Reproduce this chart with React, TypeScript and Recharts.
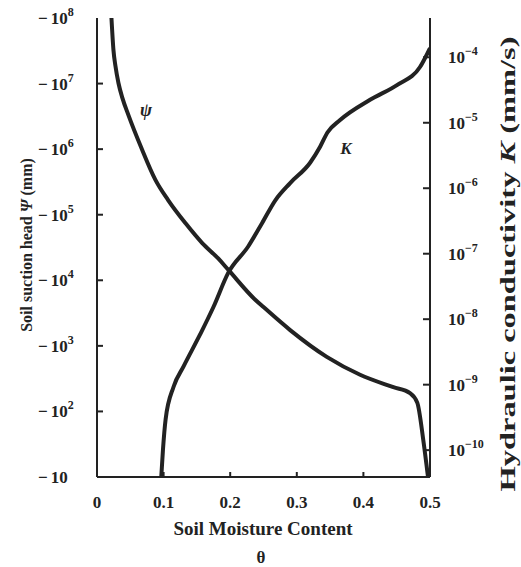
import React from "react";
import { LineChart, Line, XAxis, YAxis } from "recharts";

// ---- data ----
const psiTheta = [0.0217, 0.0247, 0.0277, 0.0322, 0.0382, 0.0472, 0.0667, 0.0877, 0.107, 0.133, 0.158, 0.182, 0.197, 0.238, 0.25, 0.29, 0.345, 0.395, 0.445, 0.47, 0.481, 0.49, 0.497];
const psiHead = [1.0e8, 3.25e7, 1.85e7, 1.02e7, 6.0e6, 3.3e6, 1.04e6, 3.4e5, 1.66e5, 7.4e4, 3.7e4, 2.15e4, 1.45e4, 5.0e3, 3.9e3, 1.74e3, 680, 363, 234, 190, 135, 36, 10];

const kTheta = [0.0965, 0.099, 0.103, 0.115, 0.13, 0.155, 0.175, 0.197, 0.227, 0.248, 0.268, 0.29, 0.32, 0.335, 0.346, 0.365, 0.41, 0.451, 0.485, 0.5];
const kCond = [3.9e-11, 1.0e-10, 2.95e-10, 9.3e-10, 1.9e-9, 5.9e-9, 1.55e-8, 5.1e-8, 1.29e-7, 2.95e-7, 6.6e-7, 1.2e-6, 2.45e-6, 4.3e-6, 7.1e-6, 1.1e-5, 2.24e-5, 3.8e-5, 7.1e-5, 1.38e-4];

const thetaTicks = [0, 0.1, 0.2, 0.3, 0.4, 0.5];
const psiTicks = [10, 1e2, 1e3, 1e4, 1e5, 1e6, 1e7, 1e8];
const kTicks = [1e-10, 1e-9, 1e-8, 1e-7, 1e-6, 1e-5, 1e-4];

const psiData = psiTheta.map((t, i) => ({ theta: t, psi: psiHead[i] }));
const kData = kTheta.map((t, i) => ({ theta: t, k: kCond[i] }));

const INK = "#222222";
const FONT = "'Liberation Serif', 'Times New Roman', serif";

function LeftTick(props: any) {
  const { x, y, payload } = props;
  const n = Math.round(Math.log10(payload.value));
  return (
    <g>
      {n > 1 && n < 8 && <line x1={x} y1={y} x2={x + 6} y2={y} stroke={INK} strokeWidth={2} />}
      <text x={x - 59} y={y + 6} fontFamily={FONT} fontWeight="bold" fontSize={17} fill={INK}>
        {"−"}
        <tspan dx={3}>10</tspan>
        {n > 1 && (
          <tspan dy={-8} fontSize={12}>
            {String(n)}
          </tspan>
        )}
      </text>
    </g>
  );
}

function RightTick(props: any) {
  const { x, y, payload } = props;
  const n = Math.round(Math.log10(payload.value));
  return (
    <g>
      <line x1={x} y1={y} x2={x - 7} y2={y} stroke={INK} strokeWidth={2} />
      <text x={x + 18} y={y + 6} fontFamily={FONT} fontWeight="bold" fontSize={17} fill={INK}>
        10
        <tspan dy={-8} fontSize={12}>{`−${-n}`}</tspan>
      </text>
    </g>
  );
}

function BottomTick(props: any) {
  const { x, y, payload } = props;
  const v = payload.value as number;
  return (
    <g>
      {v > 0.001 && v < 0.499 && <line x1={x} y1={y} x2={x} y2={y - 5} stroke={INK} strokeWidth={2} />}
      <text x={x} y={y + 31} textAnchor="middle" fontFamily={FONT} fontWeight="bold" fontSize={17} fill={INK}>
        {v === 0 ? "0" : v.toFixed(1)}
      </text>
    </g>
  );
}

function TopTick(props: any) {
  const { x, y, payload } = props;
  const v = payload.value as number;
  if (v < 0.001 || v > 0.499) return <g />;
  return <line x1={x} y1={y} x2={x} y2={y + 6} stroke={INK} strokeWidth={2} />;
}

export default function App() {
  const axisLine = { stroke: INK, strokeWidth: 2 };
  return (
    <div style={{ position: "absolute", left: 0, top: 0, width: 521, height: 567, background: "#fff" }}>
      <LineChart width={521} height={567} margin={{ top: 18, right: 0, bottom: 0, left: 0 }}>
        <XAxis
          xAxisId="b"
          type="number"
          dataKey="theta"
          domain={[0, 0.5]}
          ticks={thetaTicks}
          interval={0}
          allowDataOverflow
          height={90}
          tickSize={0}
          tickMargin={0}
          tickLine={false}
          axisLine={axisLine}
          tick={<BottomTick />}
        />
        <XAxis
          xAxisId="t"
          orientation="top"
          type="number"
          dataKey="theta"
          domain={[0, 0.5]}
          ticks={thetaTicks}
          interval={0}
          allowDataOverflow
          height={0}
          tickSize={0}
          tickMargin={0}
          tickLine={false}
          axisLine={axisLine}
          tick={<TopTick />}
        />
        <YAxis
          yAxisId="l"
          orientation="left"
          type="number"
          scale="log"
          domain={[10, 1e8]}
          ticks={psiTicks}
          interval={0}
          allowDataOverflow
          width={97}
          tickSize={0}
          tickMargin={0}
          tickLine={false}
          axisLine={axisLine}
          tick={<LeftTick />}
        />
        <YAxis
          yAxisId="r"
          orientation="right"
          type="number"
          scale="log"
          domain={[3.89e-11, 3.98e-4]}
          ticks={kTicks}
          interval={0}
          allowDataOverflow
          width={91}
          tickSize={0}
          tickMargin={0}
          tickLine={false}
          axisLine={axisLine}
          tick={<RightTick />}
        />
        <Line
          xAxisId="b"
          yAxisId="l"
          data={psiData}
          dataKey="psi"
          type="monotone"
          stroke={INK}
          strokeWidth={4}
          dot={false}
          isAnimationActive={false}
        />
        <Line
          xAxisId="b"
          yAxisId="r"
          data={kData}
          dataKey="k"
          type="monotone"
          stroke={INK}
          strokeWidth={4}
          dot={false}
          isAnimationActive={false}
        />
      </LineChart>
      <svg
        width={521}
        height={567}
        style={{ position: "absolute", left: 0, top: 0, pointerEvents: "none" }}
        fontFamily={FONT}
        fill={INK}
      >
        <text x={146} y={116} textAnchor="middle" fontStyle="italic" fontWeight="bold" fontSize={18}>ψ</text>
        <text x={346} y={154} textAnchor="middle" fontStyle="italic" fontWeight="bold" fontSize={17}>K</text>
        <text x={32} y={245} transform="rotate(-90 32 245)" textAnchor="middle" fontWeight="bold" fontSize={16}>
          Soil suction head <tspan fontStyle="italic">Ψ</tspan> (mm)
        </text>
        <text x={263} y={535} textAnchor="middle" fontWeight="bold" fontSize={19}>Soil Moisture Content</text>
        <text x={261} y={563} textAnchor="middle" fontWeight="bold" fontSize={17}>θ</text>
        <text
          x={515}
          y={264}
          transform="rotate(-90 515 264)"
          textAnchor="middle"
          fontWeight="bold"
          fontSize={21}
          textLength={455}
          lengthAdjust="spacingAndGlyphs"
        >
          Hydraulic conductivity <tspan fontStyle="italic">K</tspan> (mm/s)
        </text>
      </svg>
    </div>
  );
}
